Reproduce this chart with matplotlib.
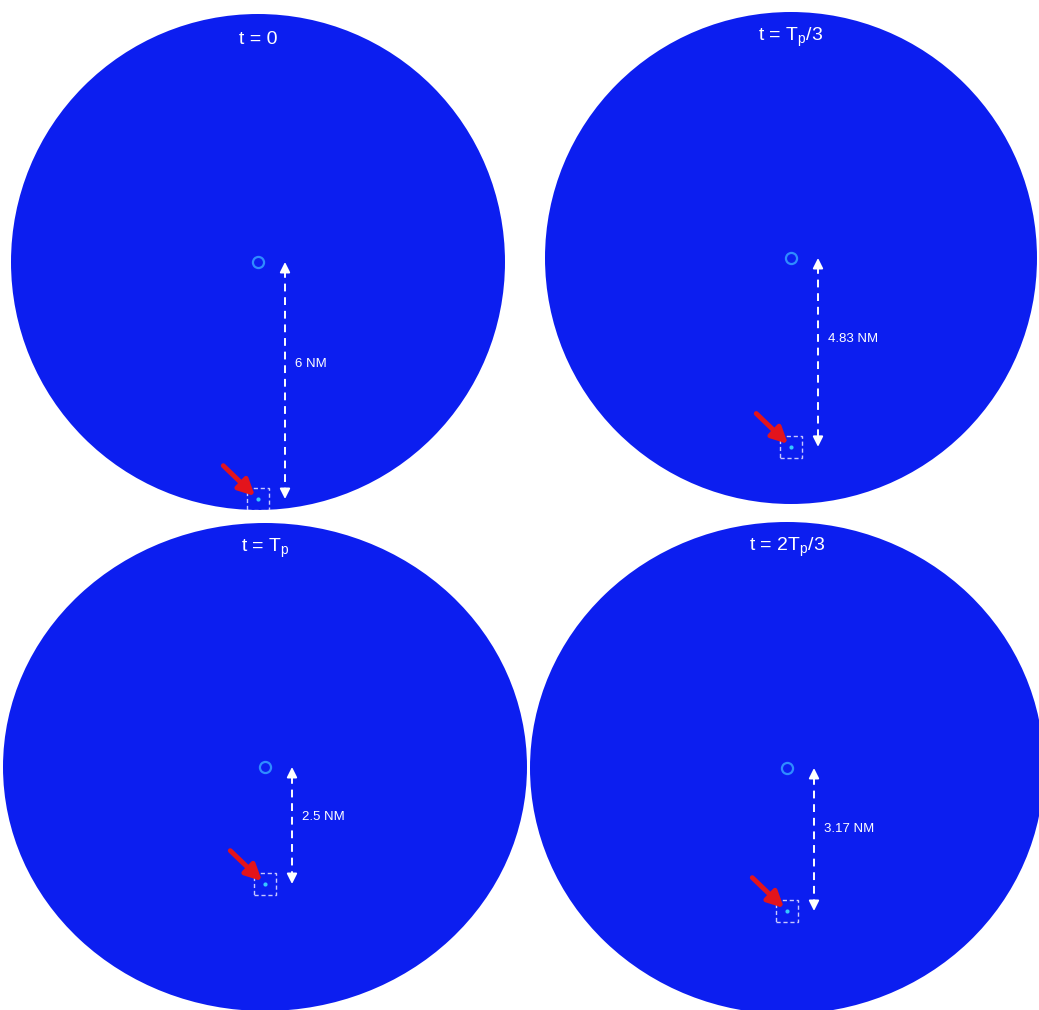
"""Four radar-style snapshots of a closing target, one disk per time step."""

import matplotlib.pyplot as plt
from matplotlib.patches import Ellipse, Rectangle

plt.rcParams["font.family"] = ["Liberation Sans", "DejaVu Sans"]

# --- data -----------------------------------------------------------------
TITLES = ["t = 0", "t = T$_\\mathregular{p}$/3",
          "t = T$_\\mathregular{p}$", "t = 2T$_\\mathregular{p}$/3"]
RANGES_NM = [6.0, 4.83, 2.5, 3.17]
RANGE_LABELS = ["6 NM", "4.83 NM", "2.5 NM", "3.17 NM"]

# --- layout (pixels): disk centre, half width, half height, px per NM ------
W, H = 1039, 1010
PANELS = [
    (258, 262, 247, 248, 39.5),
    (791, 258, 246, 246, 39.1),
    (265, 767, 262, 244, 46.8),
    (787, 768, 257, 246, 45.1),
]

DISK = "#0c1ef0"
RING = "#2f8cff"
BOX = "#c8c8ff"
RED = "#e3141c"

fig = plt.figure(figsize=(W / 100, H / 100), dpi=100)

for (cx, cy, a, b, s), title, rng, label in zip(PANELS, TITLES, RANGES_NM, RANGE_LABELS):
    ax = fig.add_axes([(cx - a) / W, 1 - (cy + b) / H, 2 * a / W, 2 * b / H])
    lim = b / s
    ax.set_xlim(-lim, lim)
    ax.set_ylim(-lim, lim)
    ax.axis("off")
    px_x = s * a / b  # horizontal px per data unit

    ax.add_patch(Ellipse((0.5, 0.5), 1, 1, transform=ax.transAxes,
                         facecolor=DISK, edgecolor="none", clip_on=False, zorder=0))

    ax.text(0.5, 0.948, title, transform=ax.transAxes, ha="center", va="center",
            color="white", fontsize=14)

    # own ship
    ax.plot([0], [0], "o", ms=8, mfc="none", mec=RING, mew=1.6, zorder=3)

    # range arrow
    xa = 27 / px_x
    ax.plot([xa, xa], [-0.2, -rng + 0.2], color="white", lw=1.4,
            dashes=(4, 3), zorder=3)
    head = dict(arrowstyle="-|>,head_length=0.6,head_width=0.3", color="white",
                lw=1.4, shrinkA=0, shrinkB=0)
    ax.annotate("", xy=(xa, 0), xytext=(0, -7), textcoords="offset points",
                arrowprops=head, zorder=4)
    ax.annotate("", xy=(xa, -rng), xytext=(0, 7), textcoords="offset points",
                arrowprops=head, zorder=4)
    ax.text(37 / px_x, -0.43 * rng, label, color="white", fontsize=9.5,
            ha="left", va="center")

    # target
    ax.plot([0], [-rng], "o", ms=3, color="#35c8ff", mec="none", zorder=3)
    bh = 22 / s
    bw = 22 / px_x
    ax.add_patch(Rectangle((-bw / 2, -rng - bh / 2), bw, bh, fill=False,
                           edgecolor=BOX, lw=1.0, linestyle=(0, (3, 2)), zorder=3))
    ax.annotate("", xy=(0, -rng), xytext=(-25, 24), textcoords="offset points",
                arrowprops=dict(arrowstyle="-|>,head_length=0.8,head_width=0.4",
                                color=RED, lw=3.5, shrinkA=0, shrinkB=3,
                                mutation_scale=12),
                zorder=5)

fig.savefig("out.png", dpi=100, facecolor="white")
